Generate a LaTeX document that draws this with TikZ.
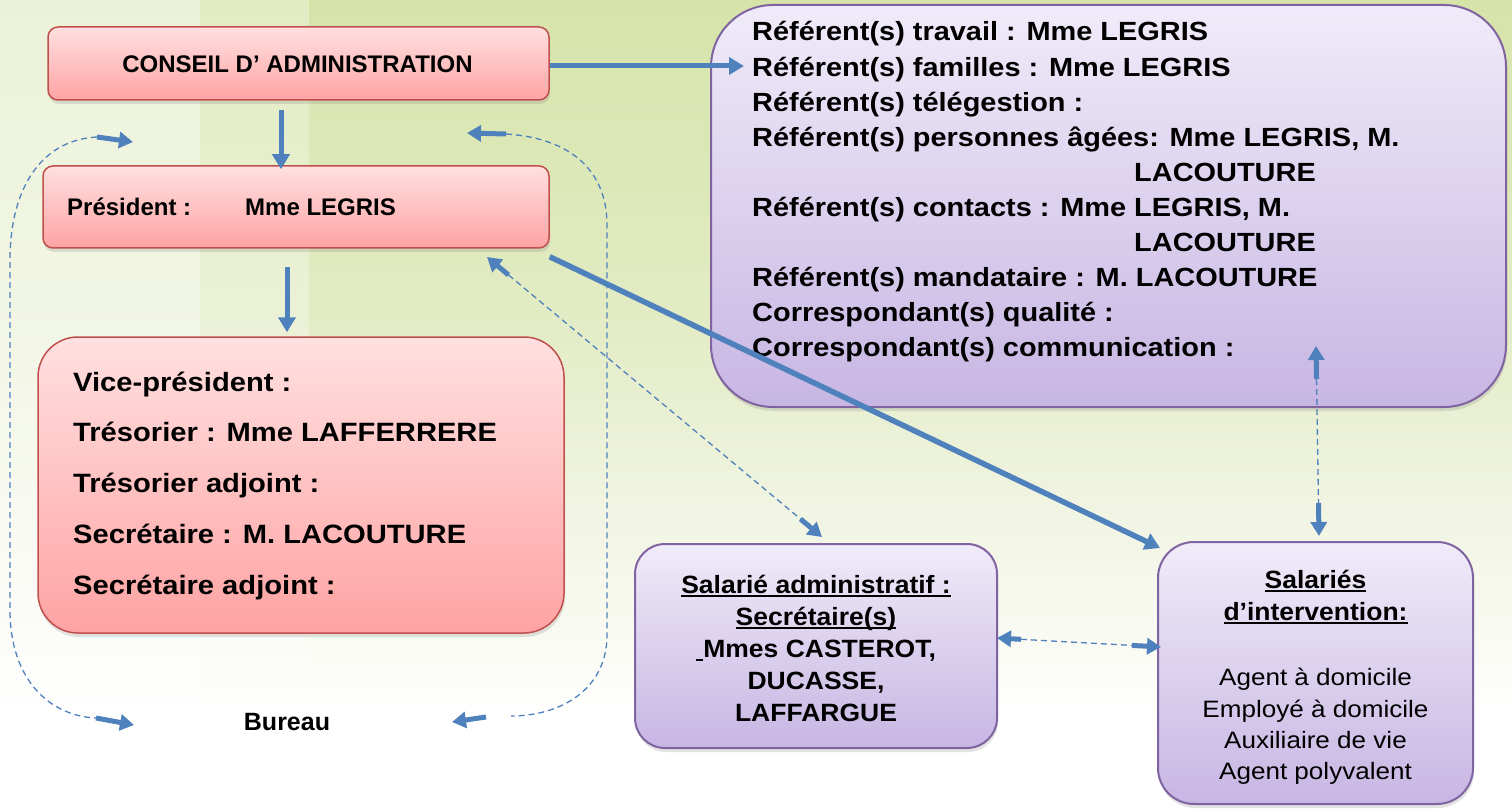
\documentclass[tikz,border=0pt]{standalone}
\usepackage{fontspec}
\setmainfont{Liberation Sans}
\newfontfamily\fM{Liberation Sans}
\newfontfamily\fA{Liberation Sans}[FakeStretch=1.06]
\newfontfamily\fB{Liberation Sans}[FakeStretch=1.1]
\usetikzlibrary{arrows.meta,shadows,calc}
\definecolor{arrowblue}{RGB}{79,129,189}
\definecolor{pinkT}{RGB}{255,224,224}
\definecolor{pinkB}{RGB}{255,163,163}
\definecolor{pinkD}{RGB}{192,80,77}
\definecolor{purT}{RGB}{240,235,249}
\definecolor{purB}{RGB}{199,182,227}
\definecolor{purD}{RGB}{128,100,162}
\definecolor{bgA}{RGB}{214,228,170}
\definecolor{bgB}{RGB}{226,235,195}
\definecolor{bgC}{RGB}{240,244,225}
\definecolor{bgD}{RGB}{250,251,244}
\pgfdeclareverticalshading{bgsh}{100bp}{color(0bp)=(white); color(31bp)=(white); color(35bp)=(bgD); color(44bp)=(bgC); color(56bp)=(bgB); color(75bp)=(bgA); color(100bp)=(bgA)}
\newcommand\ulin[1]{\setbox0\hbox{#1}\rlap{\rule[-3.5pt]{\wd0}{1.8pt}}\box0}
\tikzset{
  box/.style={draw, rectangle, inner sep=0pt, drop shadow={shadow xshift=1pt, shadow yshift=-4pt, opacity=0.22}},
  pinkbox/.style={box, draw=pinkD, line width=1.5pt, top color=pinkT, bottom color=pinkB},
  purbox/.style={box, draw=purD, line width=2pt, top color=purT, bottom color=purB},
  solidarrow/.style={draw=arrowblue, line width=5pt, -{Triangle[length=15pt,width=17pt]}},
  dashline/.style={draw=arrowblue, line width=1.3pt, dash pattern=on 6pt off 4pt},
  thickend/.style={draw=arrowblue, line width=5pt, -{Triangle[length=14pt,width=16pt]}},
  txt/.style={inner sep=0pt, text=black},
  fcons/.style={txt, font=\fM\bfseries\fontsize{24}{28}\selectfont},
  fpres/.style={txt, font=\fM\bfseries\fontsize{24}{28}\selectfont},
  fvice/.style={txt, font=\fB\bfseries\fontsize{26.5}{30}\selectfont},
  fref/.style={txt, font=\fB\bfseries\fontsize{26.3}{30}\selectfont},
  fadm/.style={txt, font=\fA\bfseries\fontsize{25}{30}\selectfont},
  fint/.style={txt, font=\fB\fontsize{23.7}{28}\selectfont},
  fbur/.style={txt, font=\fM\bfseries\fontsize{25}{30}\selectfont},
}
\begin{document}
\begin{tikzpicture}[x=1pt,y=-1pt]
\useasboundingbox (0,0) rectangle (1512,810);
% background
\shade[shading=bgsh] (0,0) rectangle (1512,810);
\fill[white,opacity=0.55] (0,0) rectangle (200,810);
\fill[white,opacity=0.3] (200,0) rectangle (309,810);

% boxes
\node[pinkbox, rounded corners=10pt, minimum width=501pt, minimum height=73pt] (ca) at (298.5,63.5) {};
\node[pinkbox, rounded corners=10pt, minimum width=506pt, minimum height=82pt] (pr) at (296,207) {};
\node[pinkbox, rounded corners=40pt, minimum width=526pt, minimum height=296pt] (vp) at (301,485) {};
\node[purbox, rounded corners=62pt, minimum width=795pt, minimum height=402pt] (ref) at (1108.5,206) {};
\node[purbox, rounded corners=30pt, minimum width=362pt, minimum height=204pt] (sa) at (816,646) {};
\node[purbox, rounded corners=36pt, minimum width=315pt, minimum height=262pt] (si) at (1315.5,673) {};

% texts
\node[fcons, anchor=base] (tca) at (297.5,73) {CONSEIL D’ ADMINISTRATION};
\node[fpres, anchor=base west] (tpr1) at (67,216) {Président :};
\node[fpres, anchor=base west] (tpr2) at (245,216) {Mme LEGRIS};

\node[fvice, anchor=base west] (v1) at (73,391) {Vice-président :};
\node[fvice, anchor=base west] (v2) at (73,441.75) {Trésorier : Mme LAFFERRERE};
\node[fvice, anchor=base west] (v3) at (73,492.5) {Trésorier adjoint :};
\node[fvice, anchor=base west] (v4) at (73,543.25) {Secrétaire : M. LACOUTURE};
\node[fvice, anchor=base west] (v5) at (73,594) {Secrétaire adjoint :};

\node[fref, anchor=base west] (r1) at (752,41) {Référent(s) travail : Mme LEGRIS};
\node[fref, anchor=base west] (r2) at (752,76.1) {Référent(s) familles : Mme LEGRIS};
\node[fref, anchor=base west] (r3) at (752,111.2) {Référent(s) télégestion :};
\node[fref, anchor=base west] (r4) at (752,146.3) {Référent(s) personnes âgées: Mme LEGRIS, M.};
\node[fref, anchor=base west] (r5) at (1134,181.4) {LACOUTURE};
\node[fref, anchor=base west] (r6) at (752,216.5) {Référent(s) contacts : Mme LEGRIS, M.};
\node[fref, anchor=base west] (r7) at (1134,251.6) {LACOUTURE};
\node[fref, anchor=base west] (r8) at (752,286.7) {Référent(s) mandataire : M. LACOUTURE};
\node[fref, anchor=base west] (r9) at (752,321.8) {Correspondant(s) qualité :};
\node[fref, anchor=base west] (r10) at (752,356.9) {Correspondant(s) communication :};

\node[fadm, anchor=base] (s1) at (816,593) {\ulin{Salarié administratif :}};
\node[fadm, anchor=base] (s2) at (816,625) {\ulin{Secrétaire(s)}};
\node[fadm, anchor=base] (s3) at (816,657) {\ulin{\ }Mmes CASTEROT,};
\node[fadm, anchor=base] (s4) at (816,689) {DUCASSE,};
\node[fadm, anchor=base] (s5) at (816,721) {LAFFARGUE};

\node[fadm, anchor=base] (i1) at (1315.5,588) {\ulin{Salariés}};
\node[fadm, anchor=base] (i2) at (1315.5,620) {\ulin{d’intervention:}};
\node[fint, anchor=base] (i3) at (1315.5,685) {Agent à domicile};
\node[fint, anchor=base] (i4) at (1315.5,717) {Employé à domicile};
\node[fint, anchor=base] (i5) at (1315.5,748) {Auxiliaire de vie};
\node[fint, anchor=base] (i6) at (1315.5,779) {Agent polyvalent};

\node[fbur, anchor=base] (bur) at (287,730) {Bureau};

% solid arrows
\coordinate (refin) at (744,66);
\draw[solidarrow] (ca.east |- refin) -- (refin);
\draw[solidarrow] ([xshift=-17.5pt,yshift=-9pt]ca.south) -- ([xshift=-15pt,yshift=-4pt]pr.north);
\draw[solidarrow] ([xshift=-9pt,yshift=-18pt]pr.south) -- ([xshift=-14pt,yshift=4pt]vp.north);
\draw[solidarrow, line width=5.5pt] ([yshift=-8pt]pr.south east) -- ([xshift=3pt,yshift=-7pt]si.north west);

% dashed double arrows
\coordinate (dA) at (487,257);
\coordinate (dB) at (822,537);
\draw[dashline] ($(dA)!28pt!(dB)$) -- ($(dB)!28pt!(dA)$);
\draw[thickend] ($(dA)!28pt!(dB)$) -- (dA);
\draw[thickend] ($(dB)!28pt!(dA)$) -- (dB);

\coordinate (vA) at (1316,346);
\coordinate (vB) at (1319,536);
\draw[dashline] ($(vA)!33pt!(vB)$) -- ($(vB)!33pt!(vA)$);
\draw[thickend] ($(vA)!33pt!(vB)$) -- (vA);
\draw[thickend] ($(vB)!33pt!(vA)$) -- (vB);

\coordinate (hA) at (997,638);
\coordinate (hB) at (1161,647);
\draw[dashline] ($(hA)!24pt!(hB)$) -- ($(hB)!29pt!(hA)$);
\draw[thickend] ($(hA)!24pt!(hB)$) -- (hA);
\draw[thickend] ($(hB)!29pt!(hA)$) -- (hB);

% bureau loops
\coordinate (ltT) at (97,137);
\coordinate (ltH) at (133,142);
\coordinate (lbT) at (96,718);
\coordinate (lbH) at (134,725);
\draw[dashline] (ltT) .. controls (40,140) and (10,190) .. (10,260) -- (10,610) .. controls (10,680) and (50,716) .. (lbT);
\draw[thickend] (ltT) -- (ltH);
\draw[thickend] (lbT) -- (lbH);

\coordinate (rtT) at (506,134);
\coordinate (rtH) at (467,133);
\coordinate (rbE) at (511,716);
\coordinate (rbT) at (486,717);
\coordinate (rbH) at (452,722);
\draw[dashline] (rtT) .. controls (570,138) and (607,170) .. (607,225) -- (607,635) .. controls (607,690) and (560,716) .. (rbE);
\draw[thickend] (rtT) -- (rtH);
\draw[thickend] (rbT) -- (rbH);
\end{tikzpicture}
\end{document}
